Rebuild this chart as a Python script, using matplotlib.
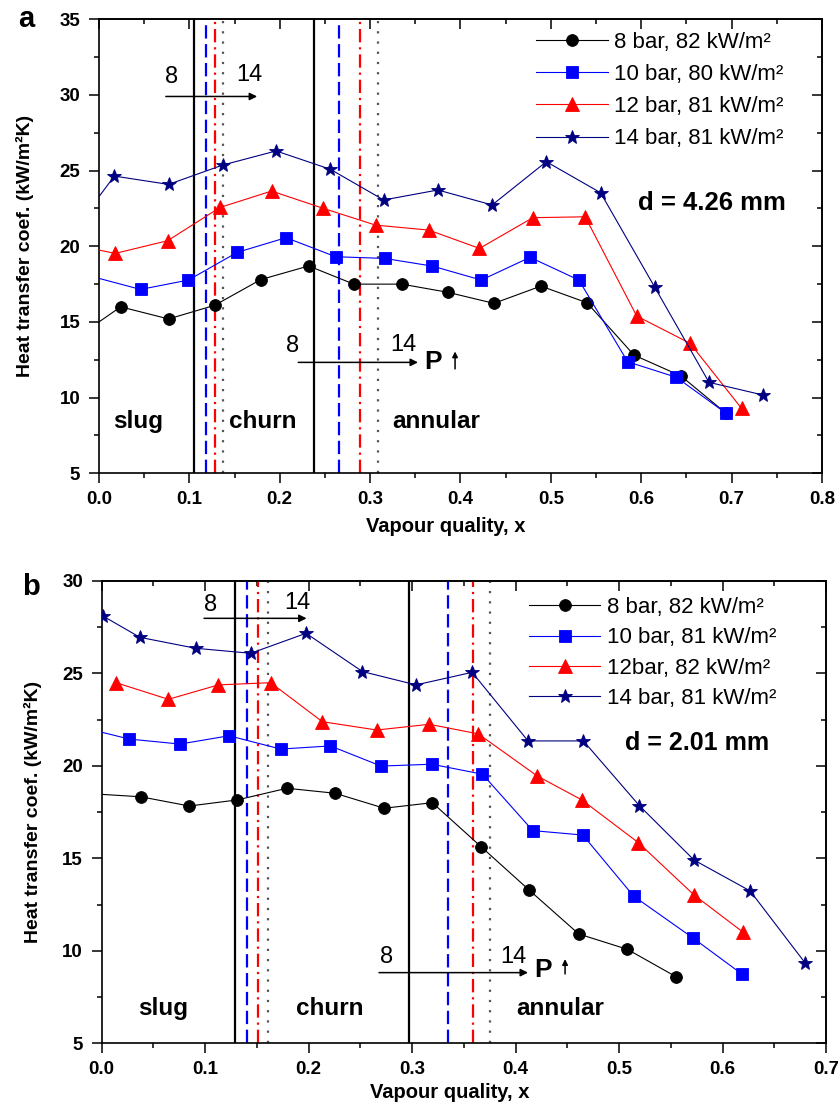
import matplotlib
matplotlib.use('Agg')
import matplotlib.pyplot as plt
from matplotlib.ticker import MultipleLocator, FormatStrFormatter

plt.rcParams['font.family'] = ['Liberation Sans', 'DejaVu Sans']
plt.rcParams['font.weight'] = 'bold'

# ---------------- Panel a data (d = 4.26 mm) ----------------
a8_x = [0.0, 0.024, 0.077, 0.128, 0.179, 0.232, 0.282, 0.335, 0.386, 0.437, 0.489, 0.540, 0.592, 0.644, 0.694]
a8_y = [15.0, 16.0, 15.2, 16.1, 17.8, 18.7, 17.5, 17.5, 16.96, 16.23, 17.37, 16.27, 12.81, 11.43, 8.96]
a10_x = [0.0, 0.046, 0.099, 0.153, 0.207, 0.262, 0.316, 0.369, 0.423, 0.477, 0.531, 0.585, 0.639, 0.694]
a10_y = [17.88, 17.15, 17.77, 19.6, 20.57, 19.31, 19.2, 18.69, 17.77, 19.27, 17.77, 12.37, 11.34, 8.96]
a12_x = [0.0, 0.018, 0.076, 0.134, 0.191, 0.248, 0.306, 0.365, 0.421, 0.480, 0.538, 0.595, 0.654, 0.711]
a12_y = [19.75, 19.53, 20.37, 22.57, 23.65, 22.51, 21.4, 21.07, 19.86, 21.89, 21.95, 15.39, 13.59, 9.29]
a14_x = [0.0, 0.017, 0.077, 0.137, 0.196, 0.256, 0.315, 0.375, 0.435, 0.495, 0.555, 0.615, 0.675, 0.735]
a14_y = [23.28, 24.64, 24.09, 25.37, 26.3, 25.09, 23.06, 23.72, 22.73, 25.59, 23.54, 17.29, 11.01, 10.17]
a_labels = ['8 bar, 82 kW/m²', '10 bar, 80 kW/m²', '12 bar, 81 kW/m²', '14 bar, 81 kW/m²']
# transition qualities (8, 10, 12, 14 bar): slug/churn and churn/annular
a_trans = [[0.105, 0.238], [0.118, 0.266], [0.128, 0.289], [0.1375, 0.309]]

# ---------------- Panel b data (d = 2.01 mm) ----------------
b8_x = [0.0, 0.0377, 0.0847, 0.131, 0.179, 0.2255, 0.273, 0.3195, 0.3666, 0.413, 0.461, 0.508, 0.555]
b8_y = [18.46, 18.33, 17.83, 18.16, 18.79, 18.52, 17.71, 18.01, 15.63, 13.29, 10.91, 10.08, 8.60]
b10_x = [0.0, 0.0267, 0.0757, 0.123, 0.173, 0.221, 0.270, 0.319, 0.368, 0.4166, 0.465, 0.514, 0.571, 0.619]
b10_y = [21.82, 21.45, 21.18, 21.63, 20.91, 21.08, 19.99, 20.09, 19.55, 16.50, 16.26, 12.96, 10.71, 8.73]
b12_x = [0.0138, 0.0644, 0.1127, 0.1633, 0.2132, 0.2658, 0.3166, 0.364, 0.421, 0.464, 0.5186, 0.5724, 0.620]
b12_y = [24.5, 23.6, 24.38, 24.5, 22.39, 21.94, 22.25, 21.73, 19.45, 18.16, 15.85, 13.02, 11.0]
b14_x = [0.001, 0.037, 0.0908, 0.144, 0.1975, 0.252, 0.3038, 0.358, 0.412, 0.4655, 0.5196, 0.5724, 0.6266, 0.680]
b14_y = [28.11, 26.95, 26.36, 26.09, 27.17, 25.1, 24.38, 25.06, 21.35, 21.35, 17.85, 14.91, 13.24, 9.33]
b_labels = ['8 bar, 82 kW/m²', '10 bar, 81 kW/m²', '12bar, 82 kW/m²', '14 bar, 81 kW/m²']
b_trans = [[0.1288, 0.2973], [0.140, 0.3344], [0.1508, 0.3592], [0.161, 0.3753]]

colors = ['black', '#0000FF', '#FF0000', '#000080']
markers = ['o', 's', '^', '*']
msizes = [8.5, 8.0, 9.5, 10.0]
vcolors = ['black', '#0000FF', '#FF0000', '#555555']
vstyles = ['-', (0, (6, 2.5)), (0, (6, 2.2, 1, 2.2)), (0, (1, 3.6))]

fig = plt.figure(figsize=(8.38, 11.02), dpi=100)
ax_a = fig.add_axes([0.1181, 0.5705, 0.8628, 0.4120])
ax_b = fig.add_axes([0.1214, 0.0533, 0.8643, 0.4195])


def style_axes(ax, xmax, ymin, ymax):
    ax.set_xlim(0, xmax)
    ax.set_ylim(ymin, ymax)
    ax.xaxis.set_major_locator(MultipleLocator(0.1))
    ax.xaxis.set_minor_locator(MultipleLocator(0.05))
    ax.yaxis.set_major_locator(MultipleLocator(5))
    ax.yaxis.set_minor_locator(MultipleLocator(2.5))
    ax.xaxis.set_major_formatter(FormatStrFormatter('%.1f'))
    ax.yaxis.set_major_formatter(FormatStrFormatter('%d'))
    for s in ax.spines.values():
        s.set_linewidth(1.2)
    ax.tick_params(which='both', direction='out', top=False, right=False, width=1.1,
                   labelsize=13.5)
    ax.tick_params(which='major', length=7.5)
    ax.tick_params(which='minor', length=3.4)
    ax.tick_params(axis='y', pad=6)
    ax.tick_params(axis='x', pad=5)
    sx = ax.secondary_xaxis('top')
    sx.xaxis.set_major_locator(MultipleLocator(0.1))
    sx.xaxis.set_minor_locator(MultipleLocator(0.05))
    sx.tick_params(which='both', direction='in', labeltop=False, width=1.1)
    sx.tick_params(which='major', length=7.5)
    sx.tick_params(which='minor', length=3.4)
    sy = ax.secondary_yaxis('right')
    sy.yaxis.set_major_locator(MultipleLocator(5))
    sy.yaxis.set_minor_locator(MultipleLocator(2.5))
    sy.tick_params(which='both', direction='in', labelright=False, width=1.1)
    sy.tick_params(which='major', length=7.5)
    sy.tick_params(which='minor', length=3.4)
    for s in list(sx.spines.values()) + list(sy.spines.values()):
        s.set_linewidth(1.2)


def draw_panel(ax, xs, ys, trans, skip_first):
    for t, c, ls in zip(trans, vcolors, vstyles):
        for xv in t:
            ax.axvline(xv, color=c, linestyle=ls, linewidth=1.6, zorder=1)
    handles = []
    for x, y, c, m, ms, sk in zip(xs, ys, colors, markers, msizes, skip_first):
        me = slice(1, None) if sk else None
        h, = ax.plot(x, y, color=c, marker=m, markersize=ms, linewidth=0.8,
                     markeredgecolor=c, markeredgewidth=0.6, markevery=me,
                     zorder=3)
        handles.append(h)
    return handles


def arrow(ax, x0, x1, y):
    ax.annotate('', xy=(x1, y), xytext=(x0, y),
                arrowprops=dict(arrowstyle='-|>', color='black', lw=1.1,
                                mutation_scale=11, shrinkA=0, shrinkB=0))


def up_arrow(ax, x, y0, y1):
    ax.annotate('', xy=(x, y1), xytext=(x, y0),
                arrowprops=dict(arrowstyle='-|>', color='black', lw=1.1,
                                mutation_scale=8, shrinkA=0, shrinkB=0))


def labels(ax, xc, xy_, yx):
    ax.set_xlabel('Vapour quality, x', fontsize=14.5, fontweight='bold')
    ax.set_ylabel('Heat transfer coef. (kW/m²K)', fontsize=14, fontweight='bold')
    ax.xaxis.set_label_coords(xc, xy_)
    ax.yaxis.set_label_coords(yx, 0.5)
    ax.xaxis.label.set_va('center')
    ax.yaxis.label.set_va('center')


# ---------------- Panel a ----------------
style_axes(ax_a, 0.8, 5, 35)
ha = draw_panel(ax_a, [a8_x, a10_x, a12_x, a14_x], [a8_y, a10_y, a12_y, a14_y],
                a_trans, [True, True, True, True])
ax_a.legend(ha, a_labels, loc='upper left', bbox_to_anchor=(0.605, 0.972),
            frameon=False, prop={'size': 16, 'weight': 'normal'},
            handlelength=3.2, handletextpad=0.3,
            labelspacing=0.5, borderpad=0, borderaxespad=0, numpoints=1)

nt = dict(fontsize=17, fontweight='normal', ha='center', va='center')
bt = dict(fontsize=17.5, fontweight='bold', ha='center', va='center')
ax_a.text(0.0805, 31.2, '8', **nt)
ax_a.text(0.166, 31.3, '14', **nt)
arrow(ax_a, 0.074, 0.175, 29.9)
ax_a.text(0.214, 13.4, '8', **nt)
ax_a.text(0.337, 13.47, '14', **nt)
arrow(ax_a, 0.2205, 0.353, 12.33)
ax_a.text(0.370, 12.37, 'P', fontsize=19, fontweight='bold', ha='center', va='center')
up_arrow(ax_a, 0.394, 11.9, 13.05)
ax_a.text(0.0435, 8.4, 'slug', **bt)
ax_a.text(0.181, 8.4, 'churn', **bt)
ax_a.text(0.3735, 8.4, 'annular', **bt)
ax_a.text(0.678, 22.84, 'd = 4.26 mm', fontsize=18.5, fontweight='bold', ha='center', va='center')
labels(ax_a, 0.48, -0.118, -0.102)

# ---------------- Panel b ----------------
style_axes(ax_b, 0.7, 5, 30)
hb = draw_panel(ax_b, [b8_x, b10_x, b12_x, b14_x], [b8_y, b10_y, b12_y, b14_y],
                b_trans, [True, True, False, False])
ax_b.legend(hb, b_labels, loc='upper left', bbox_to_anchor=(0.590, 0.965),
            frameon=False, prop={'size': 16, 'weight': 'normal'},
            handlelength=3.2, handletextpad=0.3,
            labelspacing=0.42, borderpad=0, borderaxespad=0, numpoints=1)

ax_b.text(0.1047, 28.7, '8', **nt)
ax_b.text(0.189, 28.8, '14', **nt)
arrow(ax_b, 0.0989, 0.198, 27.98)
ax_b.text(0.2754, 9.68, '8', **nt)
ax_b.text(0.398, 9.68, '14', **nt)
arrow(ax_b, 0.268, 0.412, 8.82)
ax_b.text(0.4268, 8.96, 'P', fontsize=19, fontweight='bold', ha='center', va='center')
up_arrow(ax_b, 0.4478, 8.75, 9.55)
ax_b.text(0.0595, 6.9, 'slug', **bt)
ax_b.text(0.2206, 6.9, 'churn', **bt)
ax_b.text(0.443, 6.9, 'annular', **bt)
ax_b.text(0.575, 21.22, 'd = 2.01 mm', fontsize=18, fontweight='bold', ha='center', va='center')
labels(ax_b, 0.481, -0.1075, -0.095)

fig.text(0.0219, 0.9752, 'a', fontsize=21, fontweight='bold', ha='left', va='baseline')
fig.text(0.0259, 0.460, 'b', fontsize=21, fontweight='bold', ha='left', va='baseline')

fig.savefig('out.png', dpi=100)
